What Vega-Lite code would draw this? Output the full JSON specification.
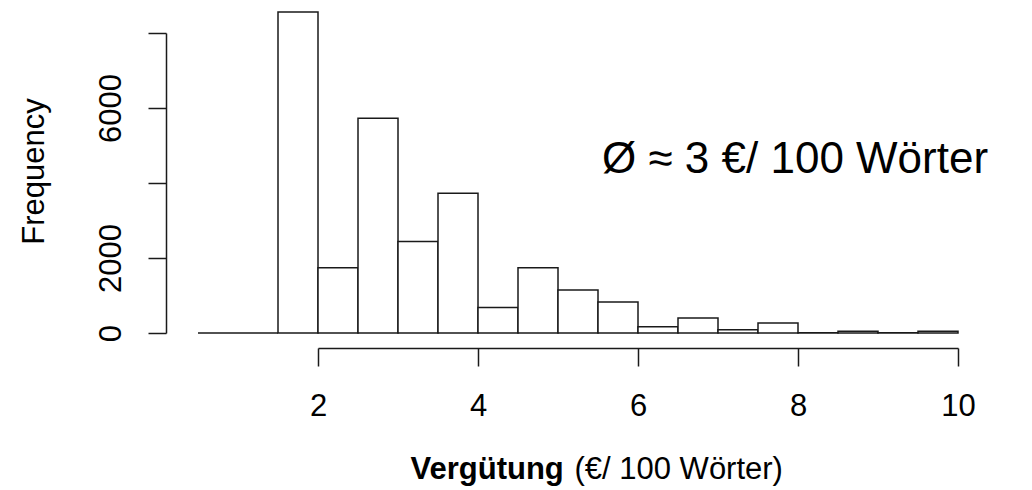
{
  "$schema": "https://vega.github.io/schema/vega-lite/v6.json",
  "width": 761,
  "height": 300,
  "autosize": {"type": "none"},
  "padding": {"left": 197, "top": 33, "right": 74, "bottom": 157},
  "background": "white",
  "config": {"view": {"stroke": null}, "font": "Liberation Sans"},
  "resolve": {"axis": {"x": "independent", "y": "independent"}},
  "layer": [
    {
      "data": {"values": [
        {"bin_start": 0.5, "bin_end": 1.0, "count": 0},
        {"bin_start": 1.0, "bin_end": 1.5, "count": 0},
        {"bin_start": 1.5, "bin_end": 2.0, "count": 8560},
        {"bin_start": 2.0, "bin_end": 2.5, "count": 1740},
        {"bin_start": 2.5, "bin_end": 3.0, "count": 5730},
        {"bin_start": 3.0, "bin_end": 3.5, "count": 2440},
        {"bin_start": 3.5, "bin_end": 4.0, "count": 3730},
        {"bin_start": 4.0, "bin_end": 4.5, "count": 680},
        {"bin_start": 4.5, "bin_end": 5.0, "count": 1740},
        {"bin_start": 5.0, "bin_end": 5.5, "count": 1150},
        {"bin_start": 5.5, "bin_end": 6.0, "count": 830},
        {"bin_start": 6.0, "bin_end": 6.5, "count": 170},
        {"bin_start": 6.5, "bin_end": 7.0, "count": 400},
        {"bin_start": 7.0, "bin_end": 7.5, "count": 90},
        {"bin_start": 7.5, "bin_end": 8.0, "count": 270},
        {"bin_start": 8.0, "bin_end": 8.5, "count": 10},
        {"bin_start": 8.5, "bin_end": 9.0, "count": 50},
        {"bin_start": 9.0, "bin_end": 9.5, "count": 5},
        {"bin_start": 9.5, "bin_end": 10.0, "count": 50}
      ]},
      "mark": {"type": "bar", "fill": "white", "stroke": "#1a1a1a", "strokeWidth": 1.5, "clip": false},
      "encoding": {
        "x": {
          "field": "bin_start", "type": "quantitative",
          "scale": {"domain": [2, 10], "range": [121, 761], "nice": false, "zero": false},
          "axis": {
            "orient": "bottom", "offset": 15, "values": [2, 4, 6, 8, 10], "format": "d",
            "grid": false, "domainColor": "#1a1a1a", "domainWidth": 1.5,
            "tickColor": "#1a1a1a", "tickWidth": 1.5, "tickSize": 18,
            "labelFont": "Liberation Sans", "labelFontSize": 31, "labelColor": "black",
            "labelBaseline": "alphabetic", "labelPadding": 49, "labelFlush": false, "labelOverlap": false,
            "title": "Vergütung", "titleFont": "Liberation Sans", "titleFontSize": 31, "titleFontWeight": "bold",
            "titleColor": "black", "titleAlign": "left", "titleBaseline": "alphabetic", "titleAnchor": null,
            "titleX": 213, "titleY": 130
          }
        },
        "x2": {"field": "bin_end"},
        "y": {
          "field": "count", "type": "quantitative",
          "scale": {"domain": [0, 8000], "nice": false},
          "axis": {
            "orient": "left", "offset": 31, "values": [0, 2000, 4000, 6000, 8000], "format": "d",
            "labelExpr": "datum.value == 4000 || datum.value == 8000 ? '' : datum.label",
            "grid": false, "domainColor": "#1a1a1a", "domainWidth": 1.5,
            "tickColor": "#1a1a1a", "tickWidth": 1.5, "tickSize": 18,
            "labelFont": "Liberation Sans", "labelFontSize": 31, "labelColor": "black",
            "labelAngle": -90, "labelAlign": "center", "labelBaseline": "alphabetic", "labelPadding": 28,
            "labelFlush": false, "labelOverlap": false,
            "title": "Frequency", "titleFont": "Liberation Sans", "titleFontSize": 31, "titleFontWeight": "normal",
            "titleColor": "black", "titleAngle": -90, "titleAlign": "center", "titleBaseline": "alphabetic",
            "titleAnchor": null, "titleX": -123, "titleY": 138
          }
        },
        "y2": {"datum": 0}
      }
    },
    {
      "data": {"values": [{"x": 5.55, "y": 4267, "label": "Ø ≈ 3 €/ 100 Wörter"}]},
      "mark": {"type": "text", "align": "left", "baseline": "alphabetic", "fontSize": 44, "font": "Liberation Sans", "color": "black", "clip": false},
      "encoding": {
        "x": {
          "field": "x", "type": "quantitative",
          "scale": {"domain": [2, 10], "range": [121, 761], "nice": false, "zero": false},
          "axis": {
            "orient": "bottom", "offset": 15, "labels": false, "ticks": false, "domain": false, "grid": false,
            "title": "(€/ 100 Wörter)", "titleFont": "Liberation Sans", "titleFontSize": 31, "titleFontWeight": "normal",
            "titleColor": "black", "titleAlign": "left", "titleBaseline": "alphabetic", "titleAnchor": null,
            "titleX": 377, "titleY": 130
          }
        },
        "y": {"field": "y", "type": "quantitative", "axis": null},
        "text": {"field": "label"}
      }
    }
  ]
}
